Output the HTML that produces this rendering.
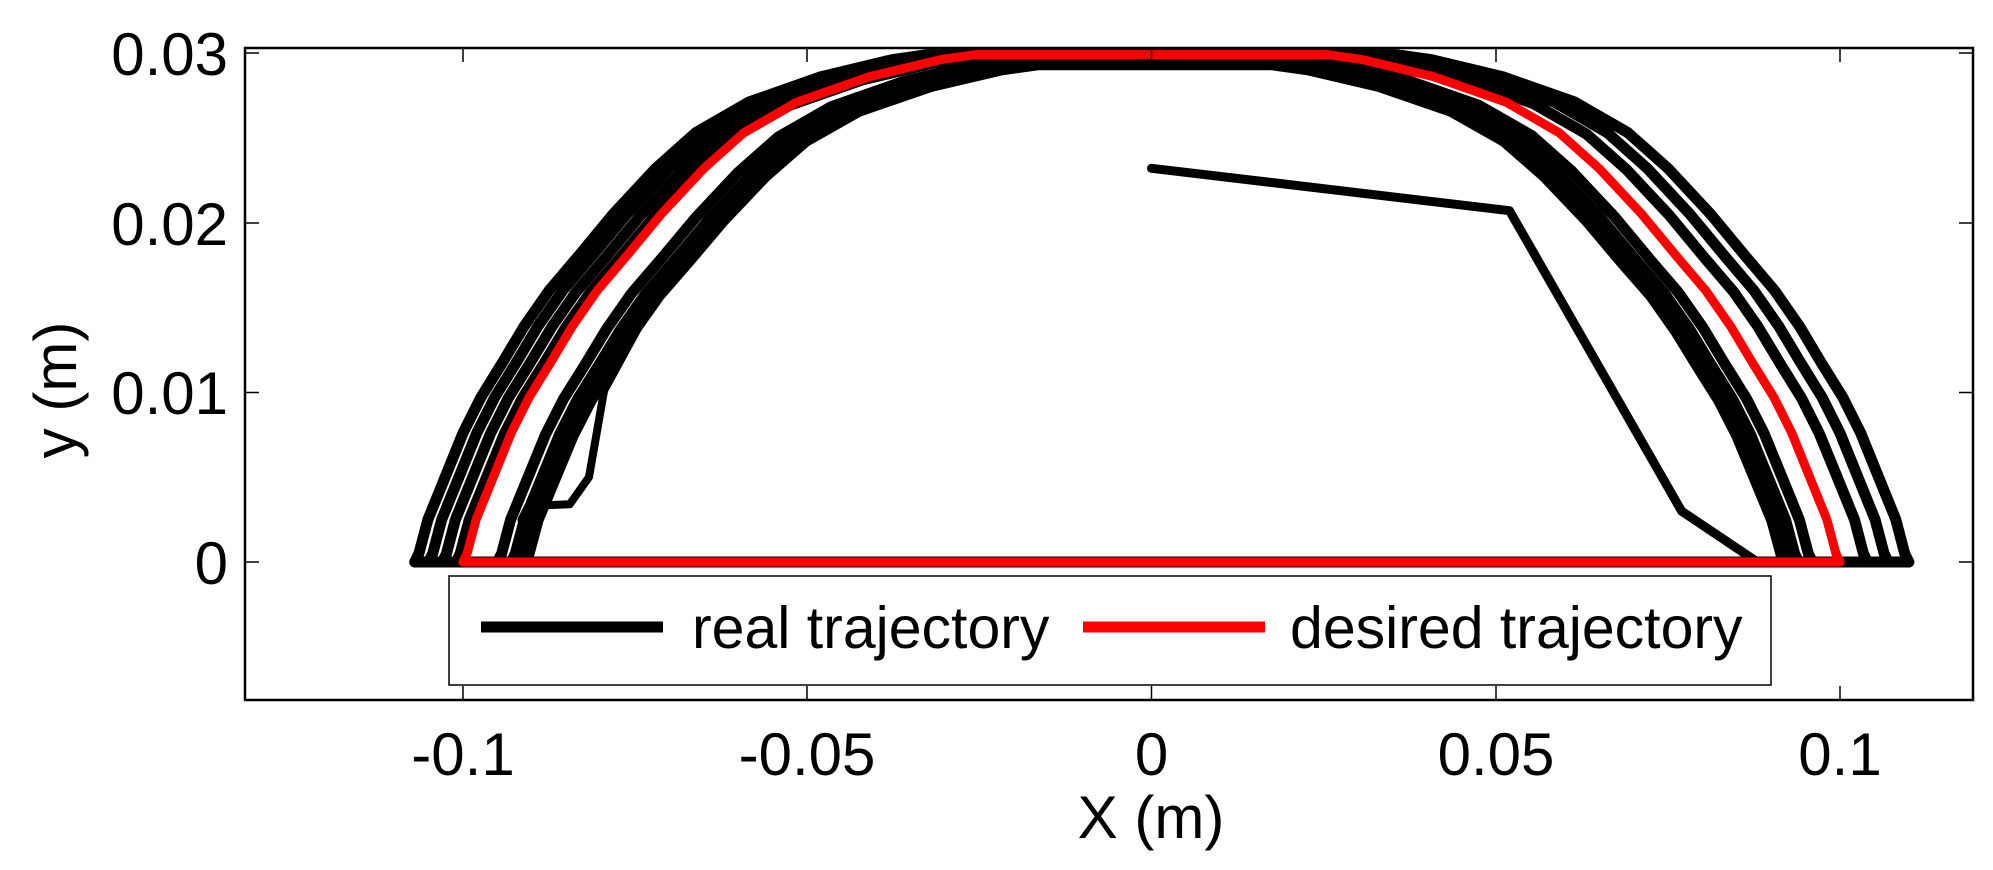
<!DOCTYPE html>
<html><head><meta charset="utf-8"><style>
html,body{margin:0;padding:0;background:#fff;}
svg{display:block;}
text{font-family:"Liberation Sans",Arial,sans-serif;fill:#000;}
</style></head><body>
<svg id="s" width="1993" height="870" viewBox="0 0 1993 870" xmlns="http://www.w3.org/2000/svg">
<rect width="1993" height="870" fill="#fff"/>
<g id="curves"></g>
<rect x="245" y="48" width="1728" height="652" fill="none" stroke="#000" stroke-width="2.5"/>
<g stroke="#000" stroke-width="1.5">
<line x1="463" y1="700" x2="463" y2="686"/><line x1="463" y1="48" x2="463" y2="62"/>
<line x1="807" y1="700" x2="807" y2="686"/><line x1="807" y1="48" x2="807" y2="62"/>
<line x1="1151.5" y1="700" x2="1151.5" y2="686"/><line x1="1151.5" y1="48" x2="1151.5" y2="62"/>
<line x1="1496" y1="700" x2="1496" y2="686"/><line x1="1496" y1="48" x2="1496" y2="62"/>
<line x1="1840" y1="700" x2="1840" y2="686"/><line x1="1840" y1="48" x2="1840" y2="62"/>
<line x1="245" y1="53" x2="259" y2="53"/><line x1="1973" y1="53" x2="1959" y2="53"/>
<line x1="245" y1="223" x2="259" y2="223"/><line x1="1973" y1="223" x2="1959" y2="223"/>
<line x1="245" y1="392.5" x2="259" y2="392.5"/><line x1="1973" y1="392.5" x2="1959" y2="392.5"/>
<line x1="245" y1="562" x2="259" y2="562"/><line x1="1973" y1="562" x2="1959" y2="562"/>
</g>
<g font-size="60" text-anchor="end">
<text x="228" y="75">0.03</text>
<text x="228" y="245">0.02</text>
<text x="228" y="414">0.01</text>
<text x="228" y="584">0</text>
</g>
<g font-size="60" text-anchor="middle">
<text x="463" y="775">-0.1</text>
<text x="807" y="775">-0.05</text>
<text x="1151.5" y="775">0</text>
<text x="1496" y="775">0.05</text>
<text x="1840" y="775">0.1</text>
<text x="1151" y="838">X (m)</text>
<text transform="translate(76,390) rotate(-90)">y (m)</text>
</g>
<rect x="449" y="576" width="1322" height="109" fill="#fff" stroke="#000" stroke-width="1.5"/>
<line x1="481" y1="627" x2="663" y2="627" stroke="#000" stroke-width="11"/>
<text x="692" y="648" font-size="59">real trajectory</text>
<line x1="1083" y1="627" x2="1265" y2="627" stroke="#f00" stroke-width="11"/>
<text x="1290" y="648" font-size="59">desired trajectory</text>
</svg>
<script>
(function(){
var X=function(x){return 1151.5+x*6885;},Y=function(y){return 562-y*16970;};
var g=document.getElementById('curves');
var prof=[[1.0,0],[0.994,0.0005],[0.981,0.0025],[0.955,0.0051],[0.930,0.0076],[0.904,0.0097],[0.872,0.0118],[0.841,0.0139],[0.805,0.0160],[0.763,0.0180],[0.712,0.0205],[0.650,0.0232],[0.592,0.0253],[0.515,0.0271],[0.41,0.0286],[0.307,0.0296],[0.255,0.0299],[0,0.0299]];
function curvePts(dL,dR,h){var pts=[];var i,k=h/0.0299;
 for(i=0;i<prof.length;i++){pts.push([X(-(0.1*prof[i][0]+dL)),Y(prof[i][1]*k)]);}
 for(i=prof.length-1;i>=0;i--){pts.push([X(0.1*prof[i][0]+dR),Y(prof[i][1]*k)]);}
 return pts;}
function lin(a){return 'M'+a.map(function(p){return p[0].toFixed(1)+','+p[1].toFixed(1);}).join(' L');}
function path(d,col,w){var e=document.createElementNS('http://www.w3.org/2000/svg','path');
 e.setAttribute('d',d);e.setAttribute('fill','none');e.setAttribute('stroke',col);
 e.setAttribute('stroke-width',w);e.setAttribute('stroke-linejoin','round');e.setAttribute('stroke-linecap','round');g.appendChild(e);}
function P(a){return a.map(function(p){return [X(p[0]),Y(p[1])];});}
var real=[[0.007,0.010,0.0299],[0.005,0.007,0.0299],[0.003,0.004,0.0298],[0.001,-0.004,0.0297],
[-0.005,-0.006,0.0296],[-0.007,-0.007,0.0295],[-0.009,-0.008,0.0293],[-0.008,-0.0065,0.0294]];
real.forEach(function(r){path(lin(curvePts(r[0],r[1],r[2])),'#000',11);});
path(lin(P([[-0.107,0],[0.110,0]])),'#000',11);
path(lin(P([[0,0.0232],[0.052,0.0207],[0.077,0.003],[0.088,0]])),'#000',9);
path(lin(P([[-0.0905,0],[-0.0915,0.0025],[-0.0905,0.0033],[-0.0845,0.0034],[-0.0817,0.0050],[-0.0795,0.0101],[-0.0736,0.0145],[-0.068,0.0185]])),'#000',8);
path(lin(curvePts(0,0,0.0299)),'#f00',9);
path(lin(P([[-0.1,0],[0.1,0]])),'#f00',9);
})();
</script>
</body></html>
